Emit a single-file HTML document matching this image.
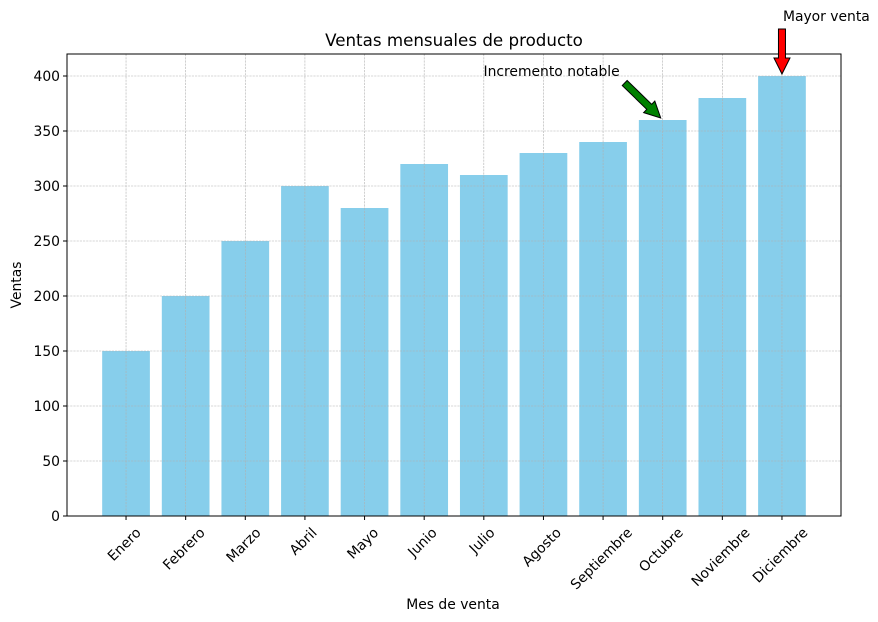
<!DOCTYPE html>
<html><head><meta charset="utf-8">
<style>
html,body{margin:0;padding:0;background:#fff;}
svg{display:block;font-family:"DejaVu Sans","Liberation Sans",sans-serif;}
</style></head>
<body>
<svg id="chart" width="878" height="622" viewBox="0 0 878 622" xmlns="http://www.w3.org/2000/svg">
<rect width="878" height="622" fill="#fff"/>
<g id="bars"></g>
<g id="grid"></g>
<rect x="67" y="54" width="774" height="462" fill="none" stroke="#000" stroke-width="1"/>
<g id="yaxis"></g>
<g id="xaxis"></g>
<text x="454" y="46" text-anchor="middle" font-size="16.7">Ventas mensuales de producto</text>
<text x="453" y="609" text-anchor="middle" font-size="13.9">Mes de venta</text>
<text transform="translate(21,285) rotate(-90)" text-anchor="middle" font-size="13.9">Ventas</text>
<g id="annotations"></g>
</svg>
<script>
const months=["Enero","Febrero","Marzo","Abril","Mayo","Junio","Julio","Agosto","Septiembre","Octubre","Noviembre","Diciembre"];
const sales=[150,200,250,300,280,320,310,330,340,360,380,400];
const yTicks=[0,50,100,150,200,250,300,350,400];
const annIncIndex=9;
const annMaxIndex=11;

const NS="http://www.w3.org/2000/svg";
const L=67,R=841,T=54,B=516;
const xmin=-0.99,xmax=11.99,ymax=420;
function xs(v){return L+(v-xmin)/(xmax-xmin)*(R-L);}
function ys(v){return B-v/ymax*(B-T);}
function mk(tag,attrs,parent){const e=document.createElementNS(NS,tag);for(const k in attrs)e.setAttribute(k,attrs[k]);parent.appendChild(e);return e;}
const grid=document.getElementById('grid'),bars=document.getElementById('bars'),ya=document.getElementById('yaxis'),xa=document.getElementById('xaxis'),an=document.getElementById('annotations');

yTicks.forEach(t=>{
  const y=ys(t);
  const g=mk('line',{x1:L,x2:R,y1:y,y2:y,stroke:'#b0b0b0','stroke-width':0.6,'stroke-dasharray':'2.2,1'},grid);
  
  
  const tk=mk('line',{x1:L-4,x2:L,y1:y,y2:y,stroke:'#000'},ya);
  
  
  const tx=mk('text',{x:L-7,y:y+4.8,'text-anchor':'end','font-size':13.9},ya);
  tx.textContent=t;
  
  
});
months.forEach((m,i)=>{
  const x=xs(i);
  const g=mk('line',{x1:x,x2:x,y1:T,y2:B,stroke:'#b0b0b0','stroke-width':0.6,'stroke-dasharray':'2.2,1'},grid);
  
  
  const w=xs(0.4)-xs(-0.4);
  const b=mk('rect',{x:x-w/2,y:ys(sales[i]),width:w,height:B-ys(sales[i]),fill:'#87ceeb'},bars);
  
  
  const tk=mk('line',{x1:x,x2:x,y1:B,y2:B+4,stroke:'#000'},xa);
  
  
  const tx=mk('text',{x:0,y:0,'text-anchor':'middle','font-size':13.9},xa);
  tx.textContent=m;
  
  
  const len=tx.getComputedTextLength();
  const half=(len*0.7071+14*0.7071)/2;
  tx.setAttribute('transform','translate('+(x-2)+','+(525+half)+') rotate(-45) translate(0,5)');
});

function arrow(x1,y1,x2,y2,color,name){
  const dx=x2-x1,dy=y2-y1,len=Math.hypot(dx,dy),ux=dx/len,uy=dy/len,px=-uy,py=ux;
  const hw=3.5,hh=8,hl=16;
  const bx=x2-ux*hl,by=y2-uy*hl;
  const pts=[[x1+px*hw,y1+py*hw],[bx+px*hw,by+py*hw],[bx+px*hh,by+py*hh],[x2,y2],[bx-px*hh,by-py*hh],[bx-px*hw,by-py*hw],[x1-px*hw,y1-py*hw]];
  const p=mk('polygon',{points:pts.map(q=>q.join(',')).join(' '),fill:color,stroke:'#000','stroke-width':1},an);
  
  
}
const ix=xs(annIncIndex),iy=ys(sales[annIncIndex]);
arrow(ix-38,iy-37,ix-2,iy-2,'#008000','increment-arrow');
const t1=mk('text',{x:ix-43,y:iy-44,'text-anchor':'end','font-size':13.9},an);
t1.textContent='Incremento notable';


const mx=xs(annMaxIndex),my=ys(sales[annMaxIndex]);
arrow(mx,my-47,mx,my-2,'#ff0000','max-arrow');
const t2=mk('text',{x:mx+1,y:my-55,'text-anchor':'start','font-size':13.9},an);
t2.textContent='Mayor venta';


</script>
</body></html>
